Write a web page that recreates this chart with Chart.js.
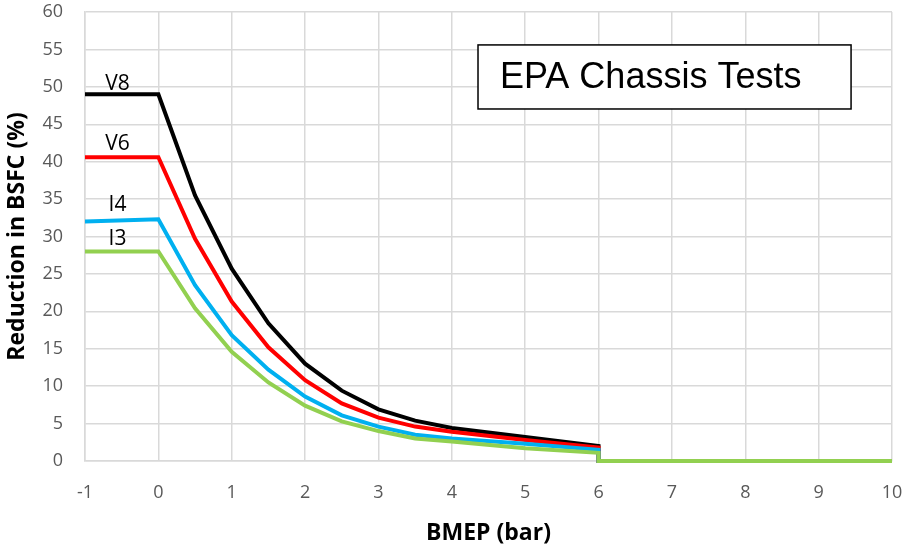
<!DOCTYPE html>
<html>
<head>
<meta charset="utf-8">
<script src="https://cdn.jsdelivr.net/npm/chart.js@4/dist/chart.umd.min.js"></script>
<style>
html,body{margin:0;padding:0;background:#fff;}
#wrap{width:910px;height:549px;}
</style>
</head>
<body>
<div id="wrap"><canvas id="c" width="910" height="549"></canvas></div>
<script>
const bmep = [-1, 0, 0.5, 1, 1.5, 2, 2.5, 3, 3.5, 4, 5, 6, 6, 10];
const v8 = [49.0, 49.0, 35.5, 25.7, 18.4, 13.0, 9.4, 6.9, 5.4, 4.4, 3.2, 2.0, 0, 0];
const v6 = [40.6, 40.6, 29.7, 21.3, 15.2, 10.8, 7.7, 5.8, 4.6, 3.9, 2.8, 1.8, 0, 0];
const i4 = [32.0, 32.3, 23.5, 16.8, 12.2, 8.6, 6.1, 4.6, 3.5, 3.0, 2.3, 1.5, 0, 0];
const i3 = [28.0, 28.0, 20.4, 14.6, 10.5, 7.4, 5.3, 4.0, 3.0, 2.6, 1.7, 1.1, 0, 0];
const seriesNames = ['V8', 'V6', 'I4', 'I3'];
const seriesColors = ['#000000', '#ff0000', '#00b0f0', '#92d050'];
const labelPos = [[-0.557, 50.4], [-0.557, 42.3], [-0.557, 34.2], [-0.557, 29.7]];
const xTicks = [-1, 0, 1, 2, 3, 4, 5, 6, 7, 8, 9, 10];
const yTicks = [0, 5, 10, 15, 20, 25, 30, 35, 40, 45, 50, 55, 60];
const boxText = 'EPA Chassis Tests';
const boxRange = {x1: 4.357, x2: 9.442, y1: 55.6, y2: 47.04};

const allSeries = [v8, v6, i4, i3];
const datasets = allSeries.map((s, k) => ({
  label: seriesNames[k],
  data: s.map((v, i) => ({x: bmep[i], y: v})),
  borderColor: seriesColors[k],
  backgroundColor: seriesColors[k],
  borderWidth: 4,
  pointRadius: 0,
  tension: 0,
  fill: false,
  clip: false,
  order: allSeries.length - 1 - k
}));

const annot = {
  id: 'annot',
  afterDatasetsDraw(chart) {
    const ctx = chart.ctx, xs = chart.scales.x, ys = chart.scales.y;
    ctx.save();
    ctx.fillStyle = '#000';
    ctx.font = '21px "Open Sans", "Liberation Sans", sans-serif';
    ctx.textAlign = 'center';
    ctx.textBaseline = 'middle';
    seriesNames.forEach((n, k) => {
      ctx.fillText(n, xs.getPixelForValue(labelPos[k][0]), ys.getPixelForValue(labelPos[k][1]));
    });
    const bx1 = xs.getPixelForValue(boxRange.x1), bx2 = xs.getPixelForValue(boxRange.x2);
    const by1 = ys.getPixelForValue(boxRange.y1), by2 = ys.getPixelForValue(boxRange.y2);
    ctx.fillStyle = '#fff';
    ctx.fillRect(bx1, by1, bx2 - bx1, by2 - by1);
    ctx.strokeStyle = '#000';
    ctx.lineWidth = 1.5;
    ctx.strokeRect(bx1, by1, bx2 - bx1, by2 - by1);
    ctx.fillStyle = '#000';
    ctx.font = '36px "Liberation Sans", Arial, sans-serif';
    ctx.textAlign = 'left';
    ctx.fillText(boxText, bx1 + 22, (by1 + by2) / 2 + 1);
    ctx.restore();
  }
};

new Chart(document.getElementById('c'), {
  type: 'line',
  data: {datasets},
  plugins: [annot],
  options: {
    responsive: false,
    animation: false,
    layout: {padding: {top: 12, right: 18, left: 4, bottom: 0}},
    plugins: {legend: {display: false}, tooltip: {enabled: false}},
    scales: {
      x: {
        type: 'linear', min: -1, max: 10,
        afterBuildTicks(ax) { ax.ticks = xTicks.map(v => ({value: v})); },
        afterFit(ax) { ax.height = 88; ax.paddingLeft = 0; ax.paddingRight = 0; },
        grid: {color: '#d9d9d9', lineWidth: 1.5, drawTicks: false},
        border: {color: '#d9d9d9', width: 1.5},
        ticks: {color: '#595959', font: {size: 18, family: '"Open Sans", "Liberation Sans", sans-serif'}, padding: 21, maxRotation: 0},
        title: {display: true, text: 'BMEP (bar)', color: '#000', font: {size: 23, weight: 'bold', family: '"Open Sans", "Liberation Sans", sans-serif'}, padding: {top: 0, bottom: 2}}
      },
      y: {
        min: 0, max: 60,
        afterBuildTicks(ax) { ax.ticks = yTicks.map(v => ({value: v})); },
        afterFit(ax) { ax.width = 81; ax.paddingTop = 0; ax.paddingBottom = 0; },
        grid: {color: '#d9d9d9', lineWidth: 1.5, drawTicks: false},
        border: {color: '#d9d9d9', width: 1.5},
        ticks: {color: '#595959', font: {size: 18, family: '"Open Sans", "Liberation Sans", sans-serif'}, padding: 22},
        title: {display: true, text: 'Reduction in BSFC (%)', color: '#000', font: {size: 23, weight: 'bold', family: '"Open Sans", "Liberation Sans", sans-serif'}, padding: {top: 0, bottom: 0}}
      }
    }
  }
});
</script>
</body>
</html>
